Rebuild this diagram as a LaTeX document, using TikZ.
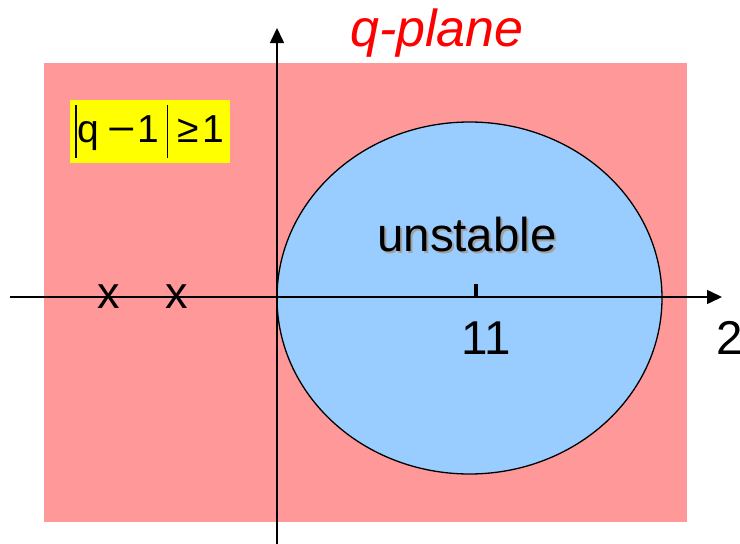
\documentclass[tikz,border=0pt]{standalone}
\usepackage{fontspec}
\setmainfont{Liberation Sans}
\usetikzlibrary{arrows.meta}
\definecolor{pinkbg}{HTML}{FF9999}
\definecolor{bluefill}{HTML}{99CCFF}
\definecolor{qred}{HTML}{FF0000}
\definecolor{shadowgray}{HTML}{A0A0A0}
\definecolor{labelyellow}{HTML}{FFFF00}
\tikzset{
  axis/.style={line width=1.6pt, -{Triangle[length=15pt,width=14pt]}},
  bigtext/.style={font=\fontsize{47.5}{47.5}\selectfont, inner sep=0pt},
  cross/.style={font=\fontsize{45}{45}\selectfont, inner sep=0pt},
}
\begin{document}
\begin{tikzpicture}[x=1pt,y=-1pt]
\useasboundingbox (0,0) rectangle (740,544);
\fill[pinkbg] (44,63) rectangle (687,522);
\draw[fill=bluefill, line width=1.3pt] (469.5,298) ellipse [x radius=192.5, y radius=176];
% axes
\coordinate (xl) at (10,297);
\coordinate (xr) at (722,297);
\coordinate (yb) at (277,544);
\coordinate (yt) at (277,28);
\draw[axis] (xl) -- (xr);
\draw[axis] (yb) -- (yt);
% tick
\coordinate (tb) at (476,297);
\coordinate (tt) at (476,284);
\draw[line width=3.5pt] (tb) -- (tt);
% crosses
\node[cross] (p1) at (109,297) {x};
\node[cross] (p2) at (177,297) {x};
% labels
\node[bigtext, text=shadowgray] (unsts) at (469,237) {unstable};
\node[bigtext] (unst) at (467,235) {unstable};
\node[bigtext] (eleven) at (486,338) {11};
\node[bigtext, anchor=west] (two) at (716,338) {2};
\node[font=\fontsize{52}{52}\selectfont\itshape, text=qred, inner sep=0pt] (title) at (437,33) {q-plane};
\node[fill=labelyellow, minimum width=160pt, minimum height=63pt, inner sep=0pt,
      font=\fontsize{39}{39}\selectfont] (cond) at (150,131.5)
  {\raisebox{-16pt}{\rule{1.8pt}{53pt}}\hspace{0.5pt}q\hspace{8pt}\scalebox{1.25}[1]{−}\hspace{2pt}1\hspace{7pt}\raisebox{-16pt}{\rule{1.8pt}{53pt}}\hspace{9pt}≥\hspace{4pt}1};
\end{tikzpicture}
\end{document}
